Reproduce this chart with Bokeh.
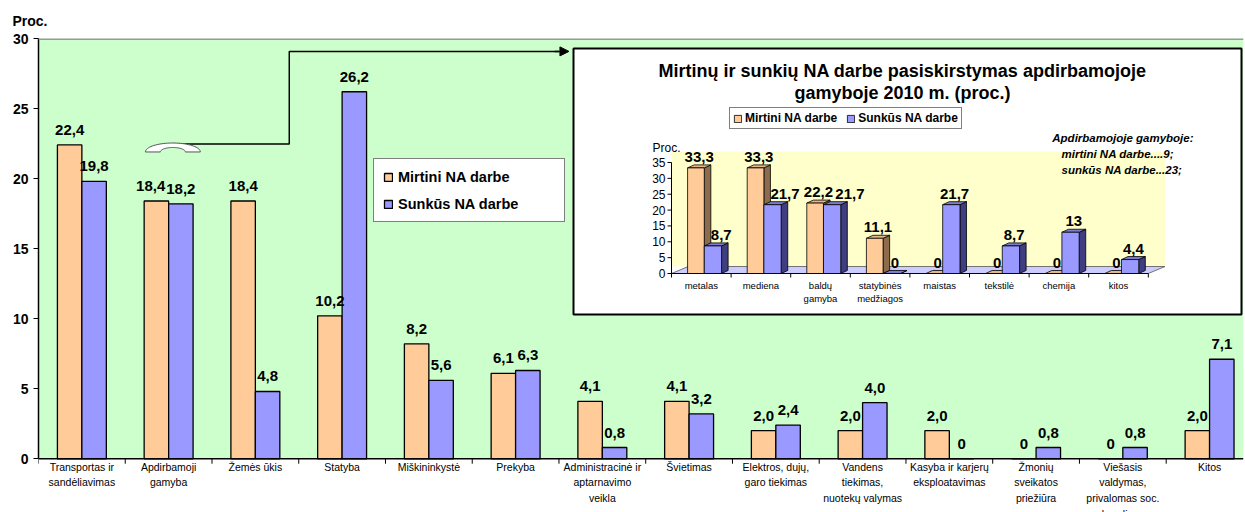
import numpy as np
from bokeh.plotting import figure
from bokeh.models import (Range1d, FixedTicker, ColumnDataSource, Label, Title,
                          Legend, LegendItem, Arrow, NormalHead, Span)
from bokeh.layouts import column
from bokeh.embed import file_html
from bokeh.resources import INLINE
from bokeh.core.properties import value

# ---------------- data ----------------
categories = ["Transportas ir\nsandėliavimas", "Apdirbamoji\ngamyba", "Žemės ūkis", "Statyba",
              "Miškininkystė", "Prekyba", "Administracinė ir\naptarnavimo\nveikla", "Švietimas",
              "Elektros, dujų,\ngaro tiekimas", "Vandens\ntiekimas,\nnuotekų valymas",
              "Kasyba ir karjerų\neksploatavimas", "Žmonių\nsveikatos\npriežiūra",
              "Viešasis\nvaldymas,\nprivalomas soc.\ndraudimas", "Kitos"]
mirtini = [22.4, 18.4, 18.4, 10.2, 8.2, 6.1, 4.1, 4.1, 2.0, 2.0, 2.0, 0, 0, 2.0]
sunkus = [19.8, 18.2, 4.8, 26.2, 5.6, 6.3, 0.8, 3.2, 2.4, 4.0, 0, 0.8, 0.8, 7.1]
y_ticks = [0, 5, 10, 15, 20, 25, 30]
series_names = ["Mirtini NA darbe", "Sunkūs NA darbe"]

inset_title = ["Mirtinų ir sunkių NA darbe pasiskirstymas apdirbamojoje", "gamyboje 2010 m. (proc.)"]
inset_categories = ["metalas", "mediena", "baldų\ngamyba", "statybinės\nmedžiagos", "maistas",
                    "tekstilė", "chemija", "kitos"]
inset_mirtini = [33.3, 33.3, 22.2, 11.1, 0, 0, 0, 0]
inset_sunkus = [8.7, 21.7, 21.7, 0, 21.7, 8.7, 13, 4.4]
inset_y_ticks = [0, 5, 10, 15, 20, 25, 30, 35]
inset_note = ["Apdirbamojoje gamyboje:", "mirtini NA darbe....9;", "sunkūs NA darbe...23;"]

# ---------------- styles ----------------
FONT = "Liberation Sans"
ORANGE = "#FFCC99"
BLUE = "#9999FF"
GREEN_BG = "#CCFFCC"
FS_MAIN = 15     # value label font size (px)
FS_IN = 15       # inset value label font size (px)


def fmt_main(v):
    return "0" if v == 0 else f"{v:.1f}".replace(".", ",")


def fmt_inset(v):
    return f"{v:g}".replace(".", ",")


def text_w(s, fs):
    # approximate width of a bold numeric label
    return fs * sum(0.278 if c == "," else 0.556 for c in s)


# ---------------- main chart ----------------
n = len(categories)
idx = np.arange(n)
bw = 0.282
W, H = 1245, 512
FL, FT = 38, 36                      # frame left / top in px
ymax = max(y_ticks)
ppu_y = 422 / ymax                   # px per y unit
ppu_x = 86.89
ymin = -(H - FT - 422) / ppu_y       # frame extends to the bottom of the canvas
xr = Range1d(-0.5, -0.5 + (W - FL) / ppu_x)

p = figure(width=W, height=H, x_range=xr, y_range=Range1d(ymin, ymax),
           output_backend="svg", toolbar_location=None, x_axis_location=None,
           min_border_left=FL, min_border_right=0, min_border_top=FT, min_border_bottom=0,
           background_fill_color="white", border_fill_color="white")
p.outline_line_color = None
p.xgrid.visible = False
p.ygrid.visible = False

p.title = Title(text="Proc.", align="left", offset=-26, standoff=20,
                text_font=FONT, text_font_style="bold", text_font_size="14px",
                text_color="black")

# plot area background (from y=0 to the top tick)
p.quad(left=xr.start, right=xr.end, bottom=0, top=ymax, fill_color=GREEN_BG, line_color=None)
p.add_layout(Span(location=ymax, dimension="width", line_color="#999999", line_width=3))

lab_o = [fmt_main(v) for v in mirtini]
lab_b = [fmt_main(v) for v in sunkus]
# nudge an orange label to the left when it would collide with its neighbour
off_o = []
for o, b, to, tb in zip(mirtini, sunkus, lab_o, lab_b):
    gap = bw * ppu_x
    need = (text_w(to, FS_MAIN) + text_w(tb, FS_MAIN)) / 2 + 1
    off_o.append(-(need - gap) if (abs(o - b) * ppu_y < FS_MAIN and need > gap) else 0.0)

src = ColumnDataSource(dict(
    xo=idx - bw / 2, xb=idx + bw / 2, mo=mirtini, sb=sunkus,
    to=lab_o, tb=lab_b, offo=off_o, offb=[0.0] * n))

r_o = p.vbar(x="xo", top="mo", width=bw, source=src, fill_color=ORANGE,
             line_color="black", line_width=1.3)
r_b = p.vbar(x="xb", top="sb", width=bw, source=src, fill_color=BLUE,
             line_color="black", line_width=1.3)

for xcol, ycol, tcol, ocol in (("xo", "mo", "to", "offo"), ("xb", "sb", "tb", "offb")):
    p.text(x=xcol, y=ycol, text=tcol, source=src, x_offset=ocol, y_offset=-15,
           text_align="center", text_baseline="middle",
           text_font=value(FONT), text_font_style="bold",
           text_font_size=f"{FS_MAIN}px", text_color="black")

# y axis
p.yaxis.ticker = FixedTicker(ticks=y_ticks)
p.yaxis.bounds = (0, ymax)
p.yaxis.major_label_text_font = FONT
p.yaxis.major_label_text_font_style = "bold"
p.yaxis.major_label_text_font_size = "14px"
p.yaxis.major_label_text_color = "black"
p.yaxis.major_tick_out = 5
p.yaxis.major_tick_in = 0
p.yaxis.minor_tick_line_color = None
p.yaxis.major_label_standoff = 5
p.yaxis.axis_line_color = "black"
p.yaxis.axis_line_width = 1.5
p.yaxis.major_tick_line_color = "black"

# category (x) axis drawn at y = 0
p.add_layout(Span(location=0, dimension="width", line_color="black", line_width=1.5))
bounds_main = [i - 0.5 for i in range(n + 1)]
p.segment(x0=bounds_main, y0=[0] * (n + 1), x1=bounds_main, y1=[-5 / ppu_y] * (n + 1),
          line_color="black", line_width=1)
p.text(x=idx, y=[0] * n, text=categories, y_offset=2, text_align="center",
       text_baseline="top", text_font=value(FONT), text_font_size="10.5px",
       text_line_height=1.3, text_color="black")

legend = Legend(items=[LegendItem(label=series_names[0], renderers=[r_o]),
                       LegendItem(label=series_names[1], renderers=[r_b])],
                location=(373 - FL, H - 222), padding=9, spacing=10, label_height=17,
                label_width=157, glyph_width=10, glyph_height=10, label_standoff=5,
                border_line_color="black", border_line_width=1,
                background_fill_color="white", background_fill_alpha=1,
                label_text_font=FONT, label_text_font_style="bold",
                label_text_font_size="14.5px", label_text_color="black")
p.add_layout(legend)

# connector from "Apdirbamoji gamyba" to the inset
p.line(x=[1.02, 2.391, 2.391, 5.50], y=[22.46, 22.46, 29.08, 29.08],
       line_color="black", line_width=1.5)
p.add_layout(Arrow(end=NormalHead(size=9, fill_color="black", line_color="black"),
                   x_start=5.45, y_start=29.08, x_end=5.615, y_end=29.08,
                   line_color="black", line_width=1.5))
t1 = np.linspace(np.pi, 0, 40)
t2 = np.linspace(0, np.pi, 40)
cx, cy = 1.049, 21.9
px_ = np.concatenate([cx + 0.3167 * np.cos(t1), cx + 0.144 * np.cos(t2)])
py_ = np.concatenate([cy + 0.64 * np.sin(t1), cy + 0.32 * np.sin(t2)])
p.patch(x=px_, y=py_, fill_color="white", line_color="#555555", line_width=1)

# ---------------- inset chart ----------------
m = len(inset_categories)
iidx = np.arange(m)
dx, dy = 0.11, 0.95       # bar depth (data units)
fdx, fdy = 0.28, 2.2      # floor depth
ippx, ippy = 59.6, 3.171  # px per unit (inset)
IW, IH = 668, 266         # inset frame size
ix0 = -(671 - 573) / ippx
iy0 = -(314 - 273) / ippy

ins = figure(width=FL + IW + 2, height=IH + 4,
             x_range=Range1d(ix0, ix0 + IW / ippx), y_range=Range1d(iy0, iy0 + IH / ippy),
             output_backend="svg", toolbar_location=None,
             x_axis_location=None, y_axis_location=None,
             min_border_left=FL, min_border_right=2, min_border_top=2, min_border_bottom=2,
             background_fill_color="white", border_fill_color=None)
ins.outline_line_color = "black"
ins.outline_line_width = 2
ins.xgrid.visible = False
ins.ygrid.visible = False
ins.styles = {"position": "absolute", "left": f"{573 - FL}px", "top": "46px"}

# back wall and floor
ins.quad(left=0, right=m + fdx, bottom=fdy, top=max(inset_y_ticks) + 3.5,
         fill_color="#FFFFCC", line_color=None)
ins.patch(x=[0, m, m + fdx, fdx], y=[0, 0, fdy, fdy], fill_color="#CCCCFF",
          line_color="#555555", line_width=0.8)


def bar3d(lefts, rights, vals, front, side, top):
    fx, fy, sx, sy, tx, ty = [], [], [], [], [], []
    for l, r, v in zip(lefts, rights, vals):
        fx.append([l, r, r, l]); fy.append([0, 0, v, v])
        sx.append([r, r + dx, r + dx, r]); sy.append([0, dy, v + dy, v])
        tx.append([l, r, r + dx, l + dx]); ty.append([v, v, v + dy, v + dy])
    ins.patches(xs=sx, ys=sy, fill_color=side, line_color="black", line_width=0.8)
    ins.patches(xs=tx, ys=ty, fill_color=top, line_color="black", line_width=0.8)
    return ins.patches(xs=fx, ys=fy, fill_color=front, line_color="black", line_width=0.8)


o_l = iidx + 0.27
o_r = iidx + 0.55
b_l = iidx + 0.55
b_r = iidx + 0.84
ri_o = bar3d(o_l, o_r, inset_mirtini, ORANGE, "#8C6C4C", "#E6B888")
ri_b = bar3d(b_l, b_r, inset_sunkus, BLUE, "#3E3E80", "#7C7CD0")

ilab_o = [fmt_inset(v) for v in inset_mirtini]
ilab_b = [fmt_inset(v) for v in inset_sunkus]
# nudge a blue label to the right when it would touch the orange label or bar
ioff_b = []
for o, b, to, tb in zip(inset_mirtini, inset_sunkus, ilab_o, ilab_b):
    wb = text_w(tb, FS_IN)
    shift = 0.0
    if o > b:
        shift = max(shift, wb / 2 - 5.4)
    gap = (b_l[0] - o_l[0]) * ippx
    need = (text_w(to, FS_IN) + wb) / 2 + 2
    if o > 0 and b > 0 and abs(o - b) * ippy < FS_IN and need > gap:
        shift = max(shift, need - gap)
    ioff_b.append(shift)

isrc = ColumnDataSource(dict(
    xo=(o_l + o_r) / 2 + dx / 2, xb=(b_l + b_r) / 2 + dx / 2,
    mo=inset_mirtini, sb=inset_sunkus, to=ilab_o, tb=ilab_b,
    offo=[0.0] * m, offb=ioff_b))
for xcol, ycol, tcol, ocol in (("xo", "mo", "to", "offo"), ("xb", "sb", "tb", "offb")):
    ins.text(x=xcol, y=ycol, text=tcol, source=isrc, x_offset=ocol, y_offset=-11,
             text_align="center", text_baseline="middle", text_font=value(FONT),
             text_font_style="bold", text_font_size=f"{FS_IN}px", text_color="black")

# inset y axis
iyt = np.array(inset_y_ticks, dtype=float)
ins.segment(x0=[0], y0=[0], x1=[0], y1=[max(inset_y_ticks)], line_color="black", line_width=1)
ins.segment(x0=[0] * len(iyt), y0=iyt, x1=[-4 / ippx] * len(iyt), y1=iyt,
            line_color="black", line_width=1)
ins.text(x=[0] * len(iyt), y=iyt, text=[str(int(t)) for t in iyt], x_offset=-6,
         text_align="right", text_baseline="middle", text_font=value(FONT),
         text_font_size="12px", text_color="black")
ins.text(x=[0], y=[max(inset_y_ticks)], text=["Proc."], x_offset=-19, y_offset=-15,
         text_align="left", text_baseline="middle", text_font=value(FONT),
         text_font_size="12px", text_color="black")

# inset x axis
ibounds = list(range(m + 1))
ins.segment(x0=[0], y0=[0], x1=[m], y1=[0], line_color="black", line_width=1)
ins.segment(x0=ibounds, y0=[0] * (m + 1), x1=ibounds, y1=[-4 / ippy] * (m + 1),
            line_color="black", line_width=1)
ins.text(x=iidx + 0.5, y=[0] * m, text=inset_categories, y_offset=6, text_align="center",
         text_baseline="top", text_font=value(FONT), text_font_size="9.5px",
         text_line_height=1.2, text_color="black")

# inset title and note
for txt, yy in zip(inset_title, (314 - 70, 314 - 92)):
    ins.add_layout(Label(x=902 - 573, y=yy, x_units="screen", y_units="screen", text=txt,
                         text_font=FONT, text_font_style="bold", text_font_size="18px",
                         text_color="black", text_baseline="middle", text_align="center"))
ins.add_layout(Label(x=1193 - 573, y=314 - 137, x_units="screen", y_units="screen",
                     text=inset_note[0], text_font=FONT, text_font_style="bold italic",
                     text_font_size="11.5px", text_color="black",
                     text_baseline="middle", text_align="right"))
for txt, yy in zip(inset_note[1:], (314 - 153, 314 - 169)):
    ins.add_layout(Label(x=1061 - 573, y=yy, x_units="screen", y_units="screen", text=txt,
                         text_font=FONT, text_font_style="bold italic",
                         text_font_size="11.5px", text_color="black",
                         text_baseline="middle", text_align="left"))

ilegend = Legend(items=[LegendItem(label=series_names[0], renderers=[ri_o]),
                        LegendItem(label=series_names[1], renderers=[ri_b])],
                 location=(729 - 573, 314 - 129), orientation="horizontal", padding=3,
                 spacing=9, glyph_width=9, glyph_height=9, label_standoff=3, label_height=10,
                 border_line_color="black", border_line_width=1,
                 background_fill_color="white", background_fill_alpha=1,
                 label_text_font=FONT, label_text_font_style="bold",
                 label_text_font_size="12px", label_text_color="black")
ins.add_layout(ilegend)

layout = column(p, ins)
open("out.html", "w").write(file_html(layout, INLINE))
